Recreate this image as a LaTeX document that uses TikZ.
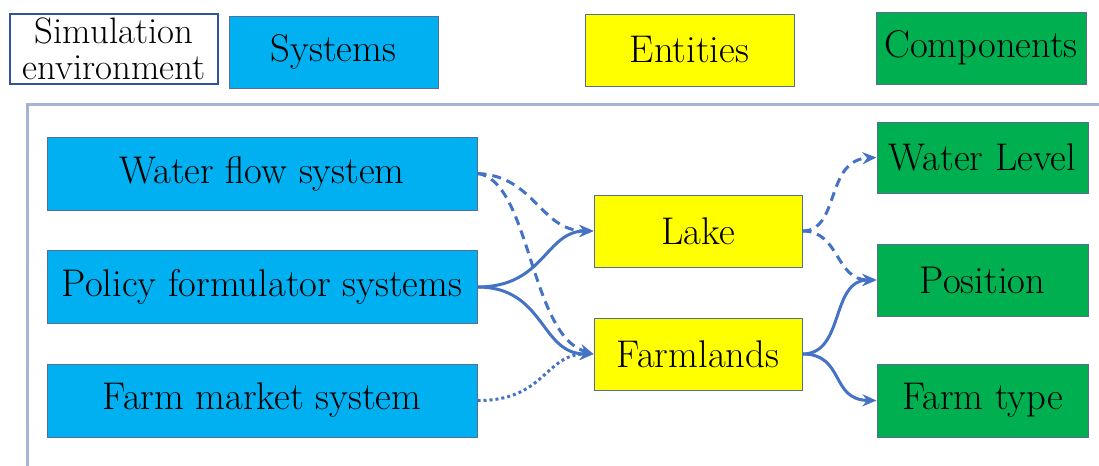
\documentclass[tikz,border=0pt]{standalone}
\usepackage{fontspec}
\usetikzlibrary{arrows.meta}
\definecolor{syscol}{RGB}{0,176,240}
\definecolor{entcol}{RGB}{255,255,0}
\definecolor{compcol}{RGB}{0,176,80}
\definecolor{edgecol}{RGB}{84,110,150}
\definecolor{envcol}{RGB}{47,85,151}
\definecolor{framecol}{RGB}{166,180,212}
\definecolor{linkcol}{RGB}{68,114,196}
\tikzset{
  box/.style={draw=edgecol,line width=0.5pt,inner sep=0pt,font=\fontsize{19.3}{16.5}\selectfont},
  sysbox/.style={box,fill=syscol,minimum width=215pt,minimum height=36.5pt},
  entbox/.style={box,fill=entcol,minimum width=104pt,minimum height=36pt},
  compbox/.style={box,fill=compcol,minimum width=105.5pt,minimum height=36pt},
  keybox/.style={box,minimum width=104.5pt,minimum height=36pt},
  link/.style={draw=linkcol,line width=1.5pt,-{Stealth[length=7pt,width=6pt]}},
  dashlink/.style={link,dash pattern=on 4.5pt off 3pt},
  dotlink/.style={link,dash pattern=on 1.5pt off 1.5pt},
}

\begin{document}
\begin{tikzpicture}[x=0.5pt,y=-0.5pt]
  \useasboundingbox (0,0) rectangle (1099,466);
  % legend row
  \node[keybox,draw=envcol,line width=1pt,fill=white,align=center,minimum width=104pt,minimum height=35pt,font=\fontsize{18.4}{18}\selectfont] (keyenv) at (114,49) {Simulation\\environment};
  \node[keybox,fill=syscol] (keysys) at (333.5,52) {Systems};
  \node[keybox,fill=entcol] (keyent) at (689.5,50) {Entities};
  \node[keybox,fill=compcol,minimum width=105pt] (keycomp) at (981,48) {Components};
  % environment frame
  \draw[framecol,line width=1.5pt] (1099,104) -- (27,104) -- (27,466);
  % systems
  \node[sysbox] (water) at (262,173.5) {Water flow system};
  \node[sysbox] (policy) at (262,287) {Policy formulator systems};
  \node[sysbox] (market) at (262,400.5) {Farm market system};
  % entities
  \node[entbox] (lake) at (698,231) {Lake};
  \node[entbox] (farm) at (698,354) {Farmlands};
  % components
  \node[compbox,minimum height=35.5pt] (level) at (982.5,157.5) {Water Level};
  \node[compbox] (pos) at (982.5,280) {Position};
  \node[compbox,minimum height=36.5pt] (ftype) at (982.5,400.5) {Farm type};
  % systems -> entities
  \draw[dashlink] (water.east) .. controls (535,176) and (540,231) .. (lake.west);
  \draw[dashlink] (water.east) .. controls (530,180) and (530,335) .. (farm.west);
  \draw[link] (policy.east) .. controls (545,287) and (545,231) .. (lake.west);
  \draw[link] (policy.east) .. controls (545,287) and (540,354) .. (farm.west);
  \draw[dotlink] (market.east) .. controls (545,401) and (545,354) .. (farm.west);
  % entities -> components
  \draw[dashlink] (lake.east) .. controls (840,231) and (825,160) .. (level.west);
  \draw[dashlink] (lake.east) .. controls (840,231) and (835,280) .. (pos.west);
  \draw[link] (farm.east) .. controls (845,354) and (830,280) .. (pos.west);
  \draw[link] (farm.east) .. controls (845,354) and (830,400) .. (ftype.west);
\end{tikzpicture}
\end{document}
